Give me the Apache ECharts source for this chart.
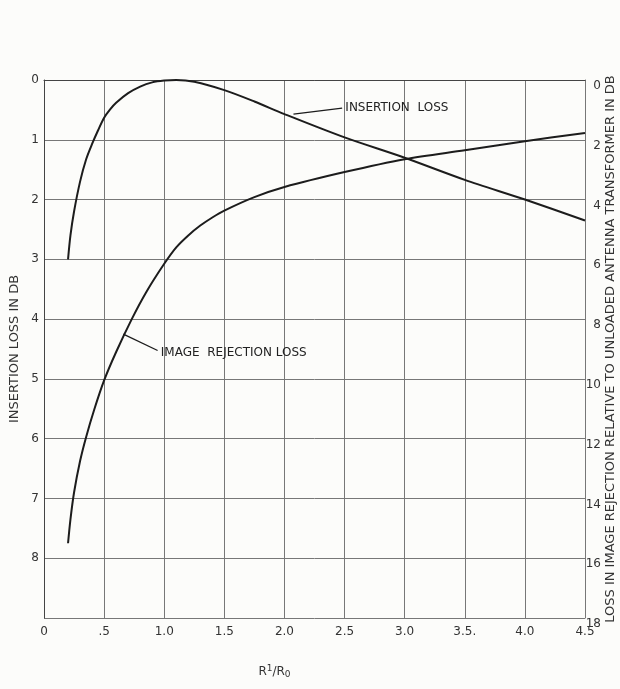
<!DOCTYPE html>
<html>
<head>
<meta charset="utf-8">
<script src="https://cdn.jsdelivr.net/npm/echarts@6/dist/echarts.min.js"></script>
<style>
  html, body { margin: 0; padding: 0; background: #fcfcfa; }
  #chart { width: 620px; height: 689px; }
</style>
</head>
<body>
<div id="chart"></div>
<script>
// R1/R0 ratio on the horizontal scale
const ratioTicks = ['0', '.5', '1.0', '1.5', '2.0', '2.5', '3.0', '3.5.', '4.0', '4.5'];

// Insertion loss (dB), read against the left scale
const insertionX = [0.2, 0.22, 0.25, 0.3, 0.35, 0.4, 0.45, 0.5, 0.55, 0.6, 0.7, 0.8, 0.9, 1.0, 1.1, 1.25, 1.5, 1.75, 2.0, 2.5, 3.0, 3.5, 4.0, 4.5];
const insertionDb = [3.0, 2.6, 2.2, 1.7, 1.33, 1.07, 0.84, 0.63, 0.49, 0.38, 0.22, 0.11, 0.04, 0.01, 0.0, 0.03, 0.17, 0.36, 0.57, 0.96, 1.3, 1.67, 2.0, 2.35];

// Image rejection loss (dB), read against the right scale
const rejectionX = [0.2, 0.22, 0.25, 0.3, 0.35, 0.42, 0.5, 0.6, 0.73, 0.85, 1.0, 1.1, 1.2, 1.3, 1.4, 1.5, 1.75, 2.0, 2.5, 3.0, 3.5, 4.0, 4.5];
const rejectionDb = [15.5, 14.7, 13.8, 12.75, 11.95, 11.0, 10.05, 9.1, 8.0, 7.1, 6.15, 5.6, 5.2, 4.87, 4.6, 4.37, 3.92, 3.58, 3.08, 2.65, 2.35, 2.05, 1.77];

// Left scale ticks (insertion loss) and right scale ticks (rejection loss)
const insertionTicks = ['0', '1', '2', '3', '4', '5', '6', '7', '8'];
const rejectionTicks = ['0', '2', '4', '6', '8', '10', '12', '14', '16', '18'];

const ink = '#1c1c1c';
const gridInk = '#777';
const font = 'DejaVu Sans';

const pair = (xs, ys) => xs.map((x, i) => [x, ys[i]]);

const chart = echarts.init(document.getElementById('chart'), null, { renderer: 'canvas' });

chart.setOption({
  backgroundColor: '#fcfcfa',
  animation: false,
  grid: { left: 44, right: 35, top: 80, bottom: 71, containLabel: false, outerBoundsMode: 'none' },
  xAxis: {
    type: 'value', min: 0, max: 4.5, interval: 0.5,
    name: 'R{s|1}/R{b|0}',
    nameLocation: 'middle', nameGap: 46, nameMoveOverlap: false,
    nameTextStyle: {
      color: '#333', fontFamily: font, fontSize: 12, padding: [0, 80, 0, 0],
      rich: {
        s: { fontSize: 9, fontFamily: font, color: '#333', verticalAlign: 'top', padding: [0, 0, 3, 0] },
        b: { fontSize: 9, fontFamily: font, color: '#333', verticalAlign: 'bottom', padding: [6, 0, 0, 0] }
      }
    },
    axisLine: { show: true, lineStyle: { color: '#444', width: 1 } },
    axisTick: { show: false },
    axisLabel: {
      color: '#333', fontFamily: font, fontSize: 12, margin: 8,
      formatter: (v) => ratioTicks[Math.round(v / 0.5)] ?? ''
    },
    splitLine: { show: true, lineStyle: { color: gridInk, width: 1 } }
  },
  yAxis: [
    {
      type: 'value', min: 0, max: 9, interval: 1, inverse: true,
      name: 'INSERTION LOSS IN DB',
      nameLocation: 'middle', nameGap: 23, nameRotate: 90, nameMoveOverlap: false,
      nameTextStyle: { color: '#333', fontFamily: font, fontSize: 13 },
      axisLine: { show: true, lineStyle: { color: '#444', width: 1 } },
      axisTick: { show: false },
      axisLabel: {
        color: '#333', fontFamily: font, fontSize: 12, margin: 5,
        formatter: (v) => insertionTicks[v] ?? ''
      },
      splitLine: { show: true, lineStyle: { color: gridInk, width: 1 } }
    },
    {
      type: 'value', min: 0, max: 18, interval: 2, inverse: true, position: 'right',
      name: 'LOSS IN IMAGE REJECTION RELATIVE TO UNLOADED ANTENNA TRANSFORMER IN DB',
      nameLocation: 'middle', nameGap: 19, nameRotate: 90, nameMoveOverlap: false,
      nameTextStyle: { color: '#333', fontFamily: font, fontSize: 13 },
      axisLine: { show: true, lineStyle: { color: gridInk, width: 1 } },
      axisTick: { show: false },
      axisLabel: {
        color: '#333', fontFamily: font, fontSize: 12, margin: 16,
        align: 'right', verticalAlign: 'top',
        formatter: (v) => rejectionTicks[v / 2] ?? ''
      },
      splitLine: { show: false }
    }
  ],
  series: [
    {
      name: 'INSERTION LOSS',
      type: 'line', yAxisIndex: 0,
      data: pair(insertionX, insertionDb),
      smooth: 0.3,
      showSymbol: false, symbol: 'none',
      lineStyle: { color: ink, width: 2 },
      markLine: {
        silent: true, symbol: ['none', 'arrow'], symbolSize: [0, 8],
        label: { show: false },
        lineStyle: { color: ink, width: 1.3, type: 'solid' },
        data: [[{ coord: [2.48, 0.47] }, { coord: [2.075, 0.57] }]]
      },
      markPoint: {
        silent: true, symbol: 'circle', symbolSize: 0,
        label: {
          show: true, position: 'right', distance: 2,
          color: '#222', fontFamily: font, fontSize: 12,
          formatter: 'INSERTION  LOSS'
        },
        data: [{ coord: [2.49, 0.47] }]
      }
    },
    {
      name: 'IMAGE REJECTION LOSS',
      type: 'line', yAxisIndex: 1,
      data: pair(rejectionX, rejectionDb),
      smooth: 0.3,
      showSymbol: false, symbol: 'none',
      lineStyle: { color: ink, width: 2 },
      markLine: {
        silent: true, symbol: ['none', 'arrow'], symbolSize: [0, 8],
        label: { show: false },
        lineStyle: { color: ink, width: 1.3, type: 'solid' },
        data: [[{ coord: [0.945, 9.05] }, { coord: [0.66, 8.5] }]]
      },
      markPoint: {
        silent: true, symbol: 'circle', symbolSize: 0,
        label: {
          show: true, position: 'right', distance: 2,
          color: '#222', fontFamily: font, fontSize: 12,
          formatter: 'IMAGE  REJECTION LOSS'
        },
        data: [{ coord: [0.955, 9.13] }]
      }
    }
  ]
});
</script>
</body>
</html>
